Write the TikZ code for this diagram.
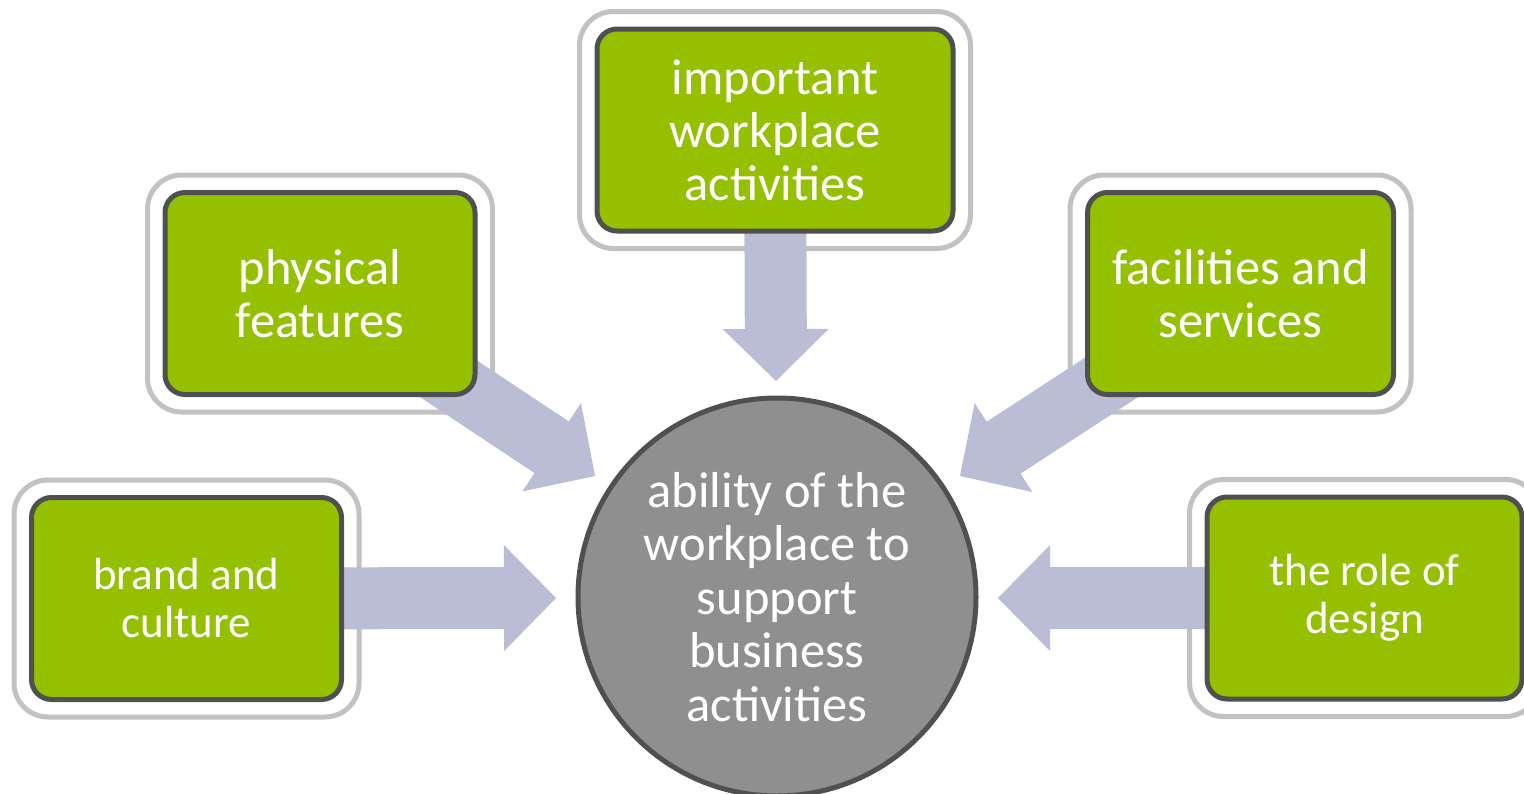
\documentclass[tikz,border=0pt]{standalone}
\usepackage{fontspec}
\setmainfont{Carlito}
\usetikzlibrary{calc}
\pgfdeclarelayer{frames}
\pgfdeclarelayer{arrows}
\pgfsetlayers{frames,arrows,main}
\definecolor{boxgreen}{RGB}{149,192,0}
\definecolor{darkline}{RGB}{80,80,80}
\definecolor{framegray}{RGB}{194,194,194}
\definecolor{arrowcol}{RGB}{187,188,214}
\definecolor{hubgray}{RGB}{143,143,143}
\tikzset{
  greenbox/.style={draw=darkline, line width=5pt, fill=boxgreen, rounded corners=20pt,
    text=white, align=center, minimum width=310pt, minimum height=202pt, inner sep=0pt,
    font=\fontsize{50.5}{53}\selectfont},
  smalltext/.style={font=\fontsize{45}{48}\selectfont},
  outerframe/.style={draw=framegray, line width=5pt, rounded corners=34pt},
  arrowfill/.style={fill=arrowcol},
  hub/.style={circle, draw=darkline, line width=5pt, fill=hubgray, minimum size=398pt,
    inner sep=0pt, text=white, align=center, font=\fontsize{50.5}{53.5}\selectfont}
}
\newcommand\blockarrow[2]{%
  \coordinate (ab) at ($(#2)!52pt!(#1)$);
  \fill[arrowfill] ($(#1)!31pt!90:(#2)$) -- ($(ab)!31pt!-90:(#1)$) -- ($(ab)!53pt!-90:(#1)$)
    -- (#2) -- ($(ab)!53pt!90:(#1)$) -- ($(ab)!31pt!90:(#1)$) -- ($(#1)!31pt!-90:(#2)$) -- cycle;}
\newcommand\framearound[1]{%
  \draw[outerframe] ($(#1.north west)+(-15pt,15pt)$) rectangle ($(#1.south east)+(15pt,-15pt)$);}
\begin{document}
\begin{tikzpicture}[x=1pt,y=-1pt]
\useasboundingbox (0,0) rectangle (1524,793);
% boxes
\node[greenbox, minimum width=356pt] (imp) at (775,130) {important\\workplace\\activities};
\node[greenbox] (phys) at (320,293.5) {physical\\features};
\node[greenbox, minimum width=306pt] (fac) at (1240.5,293.5) {facilities and\\services};
\node[greenbox, smalltext] (brand) at (186.5,598.5) {brand and\\culture};
\node[greenbox, smalltext, minimum width=315pt] (design) at (1364.5,598) {the role of\\design};
\node[hub] (hubc) at (777,597) {ability of the\\workplace to\\support\\business\\activities};
% arrow tips
\coordinate (impTip) at (776,381);
\coordinate (physTip) at (595,476);
\coordinate (facTip) at (960,476);
\coordinate (brandTip) at (556,598);
\coordinate (designTip) at (998,598);
\begin{pgfonlayer}{arrows}
  \blockarrow{imp.center}{impTip}
  \blockarrow{phys.center}{physTip}
  \blockarrow{fac.center}{facTip}
  \blockarrow{brand.center}{brandTip}
  \blockarrow{design.center}{designTip}
\end{pgfonlayer}
\begin{pgfonlayer}{frames}
  \framearound{imp}
  \framearound{phys}
  \framearound{fac}
  \framearound{brand}
  \framearound{design}
\end{pgfonlayer}
\end{tikzpicture}
\end{document}
